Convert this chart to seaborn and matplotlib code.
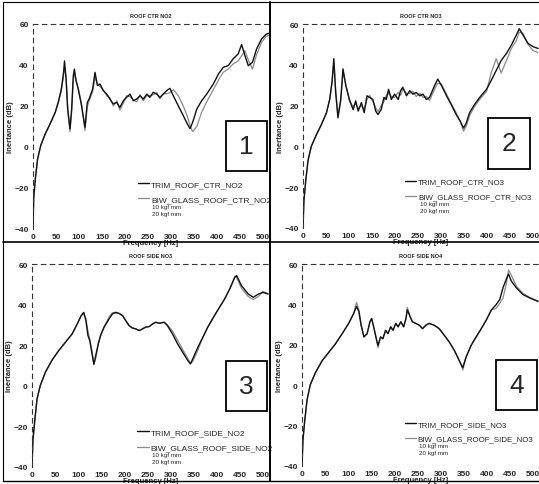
import numpy as np
import pandas as pd
import matplotlib
matplotlib.use('Agg')
import matplotlib.pyplot as plt
import seaborn as sns
from matplotlib.lines import Line2D

sns.set_style('white')
plt.rcParams['font.family'] = ['Liberation Sans', 'DejaVu Sans']

# ---- data (Hz, dB) ----
freq_1 = [0, 1.5, 5, 10, 16.6, 26.4, 37, 48.5, 55.7, 61.6, 66.5, 68.5, 72, 75.3, 80.4, 84, 87.6, 90, 93.4, 98.5,
          105.6, 113, 118, 122, 129.7, 134.8, 140, 145.7, 152.6, 160.4, 167, 174.6, 182, 188.8, 196.6, 203.4, 210.9,
          218, 225.3, 232.8, 239.6, 247.4, 254, 261.5, 269, 275.8, 283.2, 290.5, 297.7, 305, 316, 326.7, 335.5,
          341.3, 347, 356, 366.7, 377.5, 392, 403, 413.7, 424.5, 435, 446, 453.5, 460.6, 468, 477, 486, 496.8,
          506.6, 513]
trim_1 = [-40, -25, -15.6, -5.9, 0.6, 6.3, 11.2, 17, 22.6, 28.3, 36.4, 42, 33, 18.5, 8.8, 18.5, 34.8, 38, 32.4, 28.3,
          20, 9.6, 21.8, 23.4, 28.3, 36.4, 30, 30.7, 27.5, 25.8, 23.4, 21, 21.8, 19.3, 22.6, 24.2, 25.8, 22.6, 23.4, 25,
          23.4, 25.8, 24.2, 26.7, 25.8, 24.2, 25.8, 27.5, 28.6, 25, 20, 15.3, 11.2, 9, 12, 18.5, 22.6, 25.8, 30.7,
          35.6, 38.9, 39.7, 43, 45.4, 50, 44.6, 39.7, 41.3, 47.8, 52.7, 55, 55.5]
biw_1 = [-40, -25, -15.6, -5.9, 0.6, 6.3, 11.2, 17, 22, 27.5, 35, 39, 34, 20, 7.5, 17, 33, 36.5, 33, 28,
         21, 8, 19.5, 22.5, 27, 34, 31, 29.5, 28, 25, 24, 20, 22.5, 18, 21.5, 25, 24.5, 23, 22, 25.5,
         22.5, 25, 25, 25.5, 26.5, 23.5, 26, 26, 26.5, 28, 25, 20, 15, 10.5, 7.5, 10, 17, 22, 28, 32.5,
         36.5, 38, 40.5, 42, 44.5, 47, 42.5, 38, 45, 51, 54, 54.5]

freq_2 = [0, 2, 6, 11, 18, 29, 40, 51, 58, 63, 67, 71, 76, 82, 87, 93, 101, 109, 114.5, 120,
          127, 133, 139, 145, 152, 158, 163, 170, 176, 181, 186, 192, 199, 207, 212, 217, 225, 232, 239, 246,
          254, 261, 268, 275, 286, 293, 301, 312, 322, 333, 342, 349, 355, 362, 373, 384, 399, 409, 420, 431,
          442, 453, 464, 470, 478, 489, 500, 511]
trim_2 = [-40, -26.7, -16.7, -6.8, 0, 5.7, 10.7, 16.5, 23, 31.4, 43, 26.4, 14, 23, 38, 29.8, 23, 18, 22.3, 17.3,
          21.5, 16.5, 24.8, 24, 23, 17.3, 15.6, 18.1, 24, 23, 28, 23, 25.6, 23, 27.3, 29, 24.8, 27.3, 25.6, 26.4,
          24.8, 25.6, 23, 24, 29.8, 33, 29.8, 24.8, 20.6, 15.6, 12.3, 9, 11.5, 16.5, 20.6, 24, 28, 32.3, 37.2, 42.2,
          45.5, 49.7, 54.7, 57.7, 54.7, 50.5, 48.9, 48]
biw_2 = [-40, -26.7, -16.7, -6.8, 0, 5.7, 10.7, 16.5, 23, 31, 41, 28, 15, 22, 36.5, 30.5, 22, 19.5, 21, 18.5,
         20, 18, 23, 25, 22, 19, 17, 20, 22, 25, 26, 24.5, 24, 26.5, 25, 28, 26, 26, 27, 24.5,
         26, 24, 24.5, 22.5, 28, 31, 30.5, 25.5, 21, 16.5, 12, 7.5, 10, 15, 19.5, 23, 27, 36, 43, 36,
         42, 48, 52, 56, 55.5, 50, 47, 46]

freq_3 = [0, 2, 6, 11, 18, 29, 43, 58, 72.5, 87, 98, 106.5, 112, 116.7, 121, 125, 130, 134, 138, 143.5,
          148.5, 156, 167, 174, 181, 188, 196, 203, 210, 217, 225, 232, 239, 246, 254, 261, 268, 275, 286, 293,
          304, 315, 326, 337, 343, 348, 359, 370, 380.4, 395, 406, 417, 428, 439, 442.8, 453.6, 468, 479, 490, 500,
          511]
trim_3 = [-40, -26.9, -17, -6.4, 0.2, 6.7, 12.5, 17.4, 21.5, 25.6, 30.5, 34.6, 36.2, 32.1, 24.8, 22.3, 15.7, 10.5, 15, 20.7,
          24.8, 28.9, 33, 35.4, 36.2, 35.7, 34.6, 32.1, 29.7, 28.5, 28, 27.2, 28, 28.9, 29.2, 30.5, 31.3, 30.8, 31.3, 29.7,
          25.6, 20.7, 16.6, 12.5, 10.8, 13.3, 19, 24, 28.9, 34.6, 38.7, 42.8, 47.7, 53.4, 54.3, 49.3, 45.2, 43.6, 45.2, 46,
          45.2]
biw_3 = [-40, -26.9, -17, -6.4, 0.2, 6.7, 12.5, 17.4, 21.5, 25.6, 30.5, 34.6, 35.5, 33, 27, 23, 17, 11, 13.5, 20.7,
         24.8, 28.9, 34, 36, 35.8, 35.7, 34.6, 32.1, 29.7, 28.5, 28, 27.2, 28, 28.9, 29.2, 30.5, 31.3, 30.8, 31.3, 30,
         27, 22.5, 18, 13.5, 11, 12, 17.5, 24, 28.9, 34.6, 38.7, 42.8, 47.7, 54, 53.5, 48, 44, 42.5, 44, 46.5,
         45.5]

freq_4 = [0, 2, 6, 11, 18, 29, 43.5, 58, 72.5, 87, 101, 112, 118, 123, 128, 134, 141, 147, 150.7, 156,
          161.6, 164.5, 170, 175, 181, 186, 192, 197, 203, 208, 214, 220, 225, 228, 234, 239, 246, 254, 261, 268,
          275, 286, 297, 308, 319, 330, 337, 344, 348, 355, 366, 377, 388, 399, 410, 420, 428, 435, 442, 447,
          453, 464, 478, 493, 511]
trim_4 = [-40, -27.4, -17.3, -7.2, 0.3, 6.2, 12.1, 16.3, 20.5, 25.5, 30.6, 35.6, 39, 36.5, 29.7, 23.9, 25.5, 31.4, 33, 28,
          22.2, 19.7, 23.9, 23, 27.2, 25.5, 28.9, 27.2, 30.6, 28.9, 31.4, 28.9, 33, 37.3, 34, 31.4, 30.6, 29.7, 28, 29.7,
          30.6, 29.7, 28, 24.7, 21.3, 17.1, 13.8, 10.4, 8.7, 13.8, 19.7, 23.9, 28, 32.3, 37.3, 39.8, 42.4, 48.2, 52.4, 55,
          51.6, 48.2, 44.9, 43.2, 41.5]
biw_4 = [-40, -27.4, -17.3, -7.2, 0.3, 6.2, 12.1, 16.3, 20.5, 25.5, 30.6, 35.6, 41, 37.5, 29.7, 23.9, 25.5, 31.4, 33, 28,
         22.2, 18.5, 23.9, 23, 27.2, 25.5, 28.9, 27.2, 30.6, 28.9, 31.4, 28.9, 33, 38.5, 34, 31.4, 30.6, 29.7, 28, 29.7,
         30.6, 29.7, 28, 24.7, 21.3, 17.1, 13.8, 10.4, 7.5, 13.8, 19.7, 23.9, 28, 32.3, 37.3, 38, 40.5, 43, 50, 57,
         54.5, 49, 45.5, 43.5, 41.5]

titles = ['ROOF CTR NO2', 'ROOF CTR NO3', 'ROOF SIDE NO3', 'ROOF SIDE NO4']
trim_names = ['TRIM_ROOF_CTR_NO2', 'TRIM_ROOF_CTR_NO3', 'TRIM_ROOF_SIDE_NO2', 'TRIM_ROOF_SIDE_NO3']
biw_names = ['BIW_GLASS_ROOF_CTR_NO2', 'BIW_GLASS_ROOF_CTR_NO3', 'BIW_GLASS_ROOF_SIDE_NO2', 'BIW_GLASS_ROOF_SIDE_NO3']
panel_nums = ['1', '2', '3', '4']
x_ticks = [0, 50, 100, 150, 200, 250, 300, 350, 400, 450, 500]
y_ticks = [-40, -20, 0, 20, 40, 60]

panels = [(freq_1, trim_1, biw_1), (freq_2, trim_2, biw_2),
          (freq_3, trim_3, biw_3), (freq_4, trim_4, biw_4)]

W, H = 539, 485
fig = plt.figure(figsize=(W / 100, H / 100), dpi=100)

# axes boxes in pixels: left, top, bottom (right edge runs to the panel border)
boxes = [(33, 25, 230, 269), (303, 25, 229, 539), (32, 265, 468, 269), (302, 265, 467, 539)]
num_pos = [(0.905, 0.405), (0.873, 0.415), (0.905, 0.40), (0.905, 0.40)]
leg_pos = [(0.43, 0.11), (0.42, 0.12), (0.43, 0.06), (0.42, 0.10)]
leg_size = [6, 5.7, 6, 5.7]

for i, (f, t, b) in enumerate(panels):
    l, top, bot, r = boxes[i]
    ax = fig.add_axes([l / W, 1 - bot / H, (r - l) / W, (bot - top) / H])
    df = pd.DataFrame({'f': f, 'trim': t, 'biw': b})
    sns.lineplot(data=df, x='f', y='biw', ax=ax, color='#8a8a8a', lw=0.9, label=biw_names[i])
    sns.lineplot(data=df, x='f', y='trim', ax=ax, color='#111111', lw=1.0, label=trim_names[i])
    ax.set_xlim(0, 513)
    ax.set_ylim(-40, 60)
    ax.set_xticks(x_ticks)
    ax.set_yticks(y_ticks)
    ax.tick_params(labelsize=6, length=2, width=0.6, pad=1)
    for lab in ax.get_xticklabels() + ax.get_yticklabels():
        lab.set_fontweight('bold')
    for s in ['bottom', 'right']:
        ax.spines[s].set_visible(False)
    for s in ['top', 'left']:
        ax.spines[s].set_linestyle((0, (4, 4)))
        ax.spines[s].set_linewidth(0.8)
        ax.spines[s].set_color('#333333')
    ax.set_xlabel('Frequency [Hz]', fontsize=5.5, labelpad=-1, fontweight='bold')
    ax.set_ylabel('Inertance (dB)', fontsize=5.5, labelpad=0, fontweight='bold')
    ax.set_title(titles[i], fontsize=4, fontweight='bold', pad=5)

    h, lb = ax.get_legend_handles_labels()
    ax.legend(h[::-1], lb[::-1], loc='lower left', bbox_to_anchor=leg_pos[i], frameon=False,
              fontsize=leg_size[i], handlelength=1.4, handletextpad=0.2, labelspacing=0.9, borderaxespad=0)
    ax.text(leg_pos[i][0] + 0.075, leg_pos[i][1] + 0.012, '10 kgf mm', transform=ax.transAxes,
            fontsize=4.5, va='top')
    ax.text(leg_pos[i][0] + 0.075, leg_pos[i][1] - 0.022, '20 kgf mm', transform=ax.transAxes,
            fontsize=4.5, va='top')

    ax.text(num_pos[i][0], num_pos[i][1], panel_nums[i], transform=ax.transAxes, fontsize=19,
            ha='center', va='center',
            bbox=dict(boxstyle='square,pad=0.5', fc='white', ec='black', lw=1.3))

# panel frame lines of the scan
def hline(y, x0, x1, lw):
    fig.add_artist(Line2D([x0 / W, x1 / W], [1 - y / H, 1 - y / H], color='black', lw=lw))

def vline(x, y0, y1, lw):
    fig.add_artist(Line2D([x / W, x / W], [1 - y0 / H, 1 - y1 / H], color='black', lw=lw))

hline(3, 3, 539, 0.8)
hline(243, 3, 539, 1.2)
hline(482, 3, 539, 1.0)
vline(3, 3, 482, 0.8)
vline(270, 3, 482, 1.4)

fig.savefig('out.png', dpi=100, facecolor='white')
